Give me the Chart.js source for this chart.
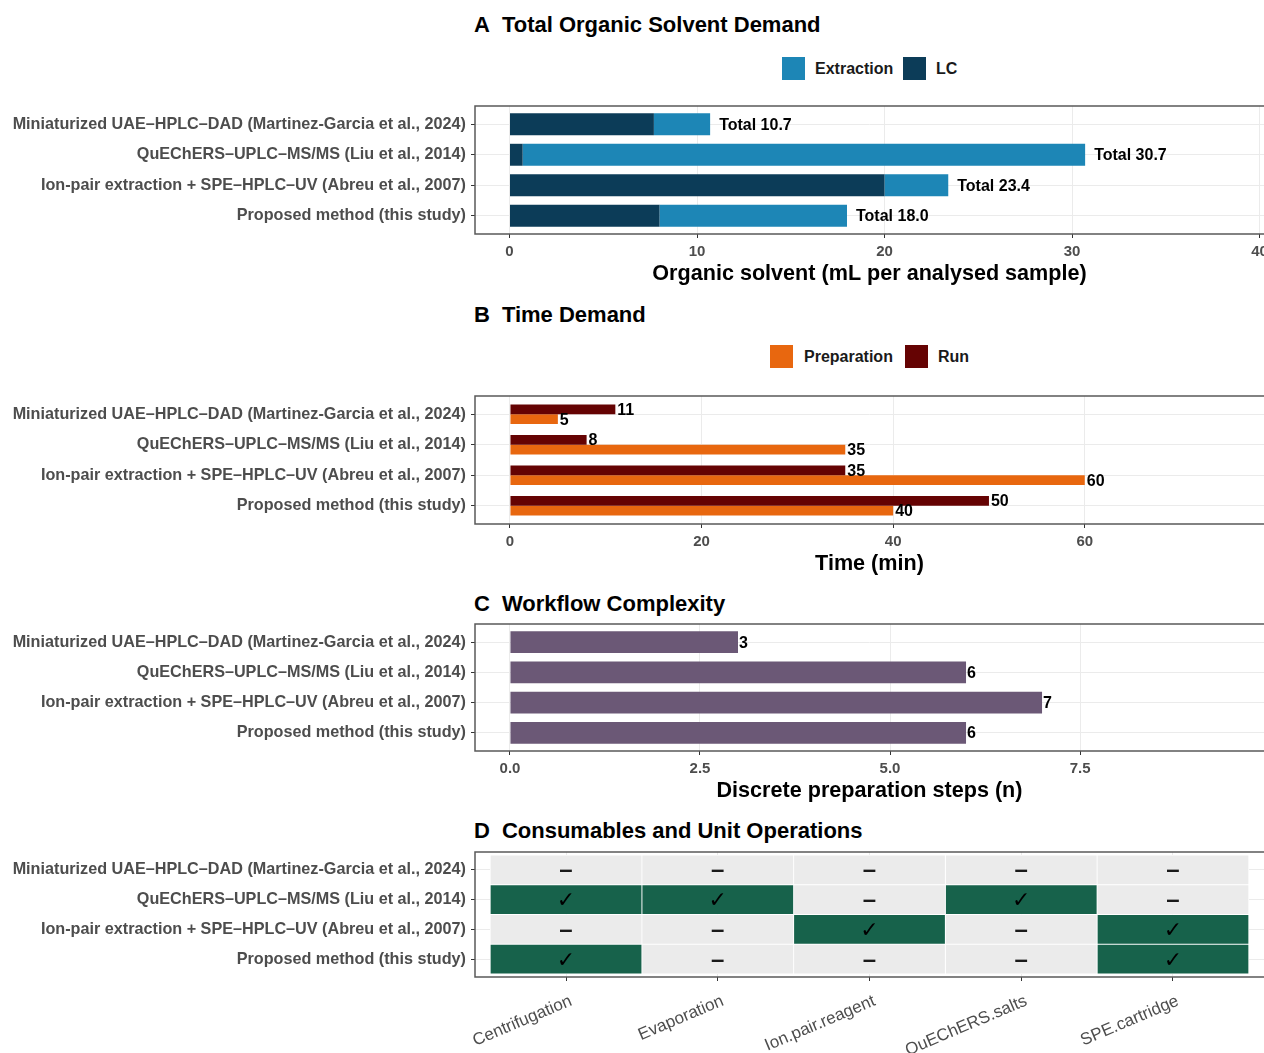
<!DOCTYPE html>
<html>
<head>
<meta charset="utf-8">
<title>Method comparison: solvent, time, complexity and consumables</title>
<script src="https://cdn.jsdelivr.net/npm/chart.js@4.4.1/dist/chart.umd.min.js"></script>
<style>
  html, body { margin: 0; padding: 0; background: #fff; }
  body { width: 1264px; height: 1053px; overflow: hidden; position: relative;
         font-family: "Liberation Sans", Arial, sans-serif; }
  .ttl { position: absolute; left: 474px; font-weight: bold; font-size: 22px; line-height: 26px;
         color: #000; white-space: nowrap; }
  .ttl span { margin-right: 12px; }
  .sw { position: absolute; width: 23px; height: 23px; }
  .lt { position: absolute; font-weight: bold; font-size: 16px; line-height: 23px; color: #1a1a1a; white-space: nowrap; }
  .pnl { position: absolute; left: 0; width: 1280px; }
  canvas { display: block; }
</style>
</head>
<body>

<div class="ttl" style="top:12px"><span>A</span>Total Organic Solvent Demand</div>
<div class="sw" id="swExtraction" style="left:782px;top:57px"></div>
<div class="lt" style="left:815px;top:57px">Extraction</div>
<div class="sw" id="swLC" style="left:903px;top:57px"></div>
<div class="lt" style="left:936px;top:57px">LC</div>
<div class="pnl" style="top:86px"><canvas id="chartSolvent" width="1280" height="204"></canvas></div>

<div class="ttl" style="top:302px"><span>B</span>Time Demand</div>
<div class="sw" id="swPrep" style="left:770px;top:345px"></div>
<div class="lt" style="left:804px;top:345px">Preparation</div>
<div class="sw" id="swRun" style="left:905px;top:345px"></div>
<div class="lt" style="left:938px;top:345px">Run</div>
<div class="pnl" style="top:376px"><canvas id="chartTime" width="1280" height="204"></canvas></div>

<div class="ttl" style="top:591px"><span>C</span>Workflow Complexity</div>
<div class="pnl" style="top:604px"><canvas id="chartSteps" width="1280" height="203"></canvas></div>

<div class="ttl" style="top:818px"><span>D</span>Consumables and Unit Operations</div>
<div class="pnl" style="top:832px"><canvas id="chartOps" width="1280" height="221"></canvas></div>

<script>
// ---- data ---------------------------------------------------------------
const methods = [
  'Miniaturized UAE\u2013HPLC\u2013DAD (Martinez-Garcia et al., 2024)',
  'QuEChERS\u2013UPLC\u2013MS/MS (Liu et al., 2014)',
  'Ion-pair extraction + SPE\u2013HPLC\u2013UV (Abreu et al., 2007)',
  'Proposed method (this study)'
];

// A: organic solvent, mL per analysed sample
const solventLC = [7.7, 0.7, 20.0, 8.0];
const solventExtraction = [3.0, 30.0, 3.4, 10.0];
const solventTicks = [0, 10, 20, 30, 40];

// B: time, min
const timeRun = [11, 8, 35, 50];
const timePreparation = [5, 35, 60, 40];
const timeTicks = [0, 20, 40, 60];

// C: discrete preparation steps
const prepSteps = [3, 6, 7, 6];
const stepTicks = [0, 2.5, 5, 7.5];

// D: consumables / unit operations (1 = used, 0 = not used)
const operations = ['Centrifugation', 'Evaporation', 'Ion.pair.reagent', 'QuEChERS.salts', 'SPE.cartridge'];
const opsMiniaturized = [0, 0, 0, 0, 0];
const opsQuEChERS     = [1, 1, 0, 1, 0];
const opsIonPair      = [0, 0, 1, 0, 1];
const opsProposed     = [1, 0, 0, 0, 1];
const opsUsed = [opsMiniaturized, opsQuEChERS, opsIonPair, opsProposed];

// ---- styling ------------------------------------------------------------
const FONT = '"Liberation Sans", Arial, sans-serif';
const COL = {
  extraction: '#1d86b6', lc: '#0c3c58',
  prep: '#e8670f', run: '#650303',
  steps: '#6b5876',
  yes: '#17624b', no: '#ebebeb',
  grid: '#ebebeb', tick: '#333333', axisText: '#4d4d4d', border: '#595959'
};
document.getElementById('swExtraction').style.background = COL.extraction;
document.getElementById('swLC').style.background = COL.lc;
document.getElementById('swPrep').style.background = COL.prep;
document.getElementById('swRun').style.background = COL.run;

Chart.defaults.font.family = FONT;
Chart.defaults.animation = false;
Chart.defaults.events = [];

// first method sits at the top of each panel
const rowPos = i => methods.length - i;

function methodAxis(extra) {
  return Object.assign({
    type: 'linear', position: 'left', min: 0.4, max: 4.6, offset: false,
    afterBuildTicks: s => { s.ticks = methods.map((_, i) => ({ value: rowPos(i) })); },
    afterFit: s => { s.width = 475; },
    ticks: {
      autoSkip: false, padding: 5, color: COL.axisText,
      font: { size: 16.2, weight: 'bold' },
      callback: v => methods[methods.length - v]
    },
    grid: { offset: false, color: COL.grid, lineWidth: 1, tickColor: COL.tick, tickLength: 4 },
    border: { display: false }
  }, extra || {});
}

function valueAxis(min, max, tickValues, titleText, fmt) {
  return {
    type: 'linear', position: 'bottom', min: min, max: max,
    afterBuildTicks: s => { s.ticks = tickValues.map(v => ({ value: v })); },
    afterFit: s => { s.height = 56; },
    ticks: {
      autoSkip: false, maxRotation: 0, padding: 5, color: COL.axisText,
      font: { size: 15, weight: 'bold' },
      callback: fmt || (v => String(v))
    },
    grid: { color: COL.grid, lineWidth: 1, tickColor: COL.tick, tickLength: 4 },
    border: { display: false },
    title: { display: true, text: titleText, color: '#000',
             font: { size: 21.6, weight: 'bold' }, padding: { top: 0, bottom: 3 } }
  };
}

// panel frame; the right edge runs just past the visible page
const panelBorder = {
  id: 'panelBorder',
  afterDatasetsDraw(chart) {
    const { ctx, chartArea: a } = chart;
    ctx.save();
    ctx.strokeStyle = COL.border;
    ctx.lineWidth = 1.5;
    ctx.strokeRect(a.left, a.top, a.right - a.left + 4, a.bottom - a.top);
    ctx.restore();
  }
};

function textPlugin(id, drawFn) {
  return {
    id: id,
    afterDraw(chart) {
      const ctx = chart.ctx;
      ctx.save();
      ctx.fillStyle = '#000';
      ctx.textBaseline = 'middle';
      ctx.textAlign = 'left';
      ctx.font = 'bold 16px ' + FONT;
      drawFn(chart, ctx);
      ctx.restore();
    }
  };
}

function barLabels(chart, ctx, dx) {
  chart.data.datasets.forEach((ds, d) => {
    chart.getDatasetMeta(d).data.forEach((el, i) => {
      ctx.fillText(String(ds.data[i].x), el.x + dx, el.y + 1);
    });
  });
}

const baseOptions = (scales) => ({
  responsive: false,
  devicePixelRatio: 1,
  indexAxis: 'y',
  layout: { padding: { top: 20, right: 16, bottom: 0, left: 0 } },
  plugins: { legend: { display: false }, tooltip: { enabled: false } },
  scales: scales
});

// ---- A: stacked solvent demand ----------------------------------------
new Chart(document.getElementById('chartSolvent'), {
  type: 'bar',
  data: {
    datasets: [
      { label: 'LC', backgroundColor: COL.lc,
        data: solventLC.map((v, i) => ({ x: v, y: rowPos(i) })) },
      { label: 'Extraction', backgroundColor: COL.extraction,
        data: solventExtraction.map((v, i) => ({ x: v, y: rowPos(i) })) }
    ]
  },
  options: Object.assign(baseOptions({
    x: Object.assign(valueAxis(-1.84, 40.24, solventTicks, 'Organic solvent (mL per analysed sample)'), { stacked: true }),
    y: methodAxis({ stacked: true })
  }), {
    datasets: { bar: { categoryPercentage: 0.72, barPercentage: 1 } }
  }),
  plugins: [panelBorder, textPlugin('solventTotals', (chart, ctx) => {
    const xs = chart.scales.x, ys = chart.scales.y;
    methods.forEach((_, i) => {
      const total = solventLC[i] + solventExtraction[i];
      ctx.fillText('Total ' + total.toFixed(1), xs.getPixelForValue(total) + 9, ys.getPixelForValue(rowPos(i)) + 1);
    });
  })]
});

// ---- B: grouped time demand -------------------------------------------
new Chart(document.getElementById('chartTime'), {
  type: 'bar',
  data: {
    datasets: [
      { label: 'Run', backgroundColor: COL.run,
        data: timeRun.map((v, i) => ({ x: v, y: rowPos(i) })) },
      { label: 'Preparation', backgroundColor: COL.prep,
        data: timePreparation.map((v, i) => ({ x: v, y: rowPos(i) })) }
    ]
  },
  options: Object.assign(baseOptions({
    x: valueAxis(-3.65, 78.71, timeTicks, 'Time (min)'),
    y: methodAxis()
  }), {
    datasets: { bar: { categoryPercentage: 0.64, barPercentage: 1 } }
  }),
  plugins: [panelBorder, textPlugin('timeLabels', (chart, ctx) => barLabels(chart, ctx, 2))]
});

// ---- C: workflow complexity -------------------------------------------
new Chart(document.getElementById('chartSteps'), {
  type: 'bar',
  data: {
    datasets: [
      { label: 'Steps', backgroundColor: COL.steps,
        data: prepSteps.map((v, i) => ({ x: v, y: rowPos(i) })) }
    ]
  },
  options: Object.assign(baseOptions({
    x: valueAxis(-0.46, 9.92, stepTicks, 'Discrete preparation steps (n)', v => v.toFixed(1)),
    y: methodAxis()
  }), {
    datasets: { bar: { categoryPercentage: 0.72, barPercentage: 1 } }
  }),
  plugins: [panelBorder, textPlugin('stepLabels', (chart, ctx) => barLabels(chart, ctx, 1))]
});

// ---- D: consumables tile grid (floating bars, one per cell) -----------
new Chart(document.getElementById('chartOps'), {
  type: 'bar',
  data: {
    datasets: operations.map((op, c) => ({
      label: op,
      grouped: false,
      borderSkipped: false,
      borderColor: '#ffffff',
      borderWidth: 0.8,
      backgroundColor: methods.map((_, i) => opsUsed[i][c] ? COL.yes : COL.no),
      data: methods.map((_, i) => ({ x: [c + 0.5, c + 1.5], y: rowPos(i) }))
    }))
  },
  options: Object.assign(baseOptions({
    x: {
      type: 'linear', position: 'bottom', min: 0.4, max: 5.6,
      afterBuildTicks: s => { s.ticks = operations.map((_, c) => ({ value: c + 1 })); },
      afterFit: s => { s.height = 76; },
      ticks: {
        autoSkip: false, minRotation: 23, maxRotation: 23, padding: 10, labelOffset: 5,
        color: COL.axisText, font: { size: 17 },
        callback: v => operations[v - 1]
      },
      grid: { color: COL.grid, lineWidth: 1, tickColor: COL.tick, tickLength: 4 },
      border: { display: false }
    },
    y: methodAxis()
  }), {
    datasets: { bar: { categoryPercentage: 1, barPercentage: 1 } }
  }),
  plugins: [panelBorder, textPlugin('opMarks', (chart, ctx) => {
    const xs = chart.scales.x, ys = chart.scales.y;
    ctx.textAlign = 'center';
    methods.forEach((_, i) => {
      operations.forEach((_, c) => {
        const x = xs.getPixelForValue(c + 1), y = ys.getPixelForValue(rowPos(i));
        if (opsUsed[i][c]) {
          ctx.font = 'bold 22px "DejaVu Sans", sans-serif';
          ctx.fillStyle = '#000';
          ctx.fillText('\u2713', x, y + 2);
        } else {
          ctx.font = 'bold 24px ' + FONT;
          ctx.fillStyle = '#1a1a1a';
          ctx.fillText('\u2013', x, y + 1);
        }
      });
    });
  })]
});
</script>
</body>
</html>
